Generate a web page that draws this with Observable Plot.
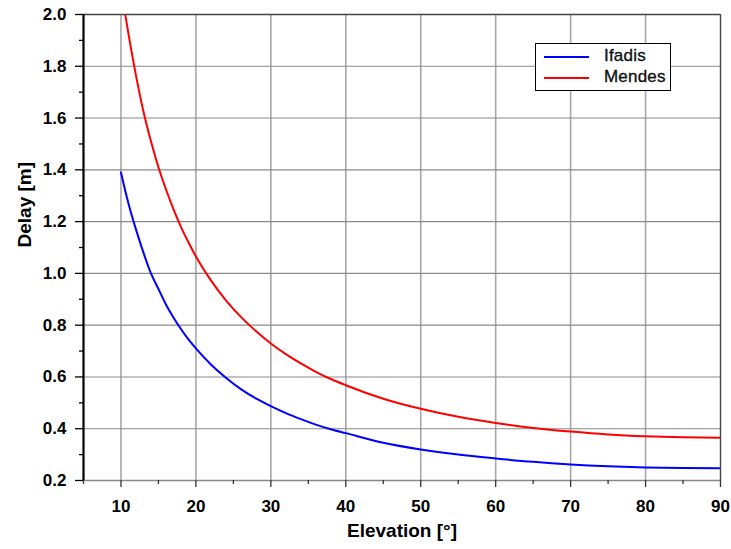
<!DOCTYPE html>
<html>
<head>
<meta charset="utf-8">
<script src="https://cdn.jsdelivr.net/npm/d3@7"></script>
<script src="https://cdn.jsdelivr.net/npm/@observablehq/plot@0.6"></script>
<style>
  html, body { margin: 0; padding: 0; background: white; }
  #wrap { position: relative; width: 731px; height: 549px; }
  #legend {
    position: absolute; left: 535px; top: 43px; width: 134px; height: 46px;
    border: 1px solid black; background: white;
    font-family: 'Liberation Sans', Arial, sans-serif; font-size: 17px;
  }
  .row { position: absolute; left: 0; height: 20px; width: 134px; }
  .swatch { position: absolute; left: 8px; width: 45px; height: 2px; }
  .lab { position: absolute; left: 68px; color: #111; -webkit-text-stroke: 0.35px #111; letter-spacing: 0.2px; }
</style>
</head>
<body>
<div id="wrap"></div>
<script>
// Elevation angles (degrees)
const elevation = [10,11,12,13,14,15,16,17,18,19,20,22,24,26,28,30,32,34,36,38,40,45,50,55,60,65,70,75,80,85,90];
// Delay [m] – Ifadis
const ifadis = [1.39,1.27,1.17,1.08,1.00,0.94,0.88,0.83,0.785,0.745,0.71,0.648,0.597,0.553,0.517,0.487,0.46,0.437,0.416,0.398,0.383,0.346,0.32,0.30,0.285,0.272,0.262,0.255,0.2505,0.248,0.247];
// Delay [m] – Mendes
const mendes = [2.10,1.925,1.765,1.625,1.51,1.41,1.325,1.248,1.18,1.12,1.065,0.973,0.896,0.832,0.777,0.729,0.688,0.652,0.62,0.592,0.568,0.516,0.477,0.446,0.422,0.403,0.389,0.378,0.371,0.367,0.365];

const seriesNames = ["Ifadis", "Mendes"];
const seriesColors = ["#0000ff", "#ff0000"];

const xTicks = [10,20,30,40,50,60,70,80,90];
const xMinorTicks = [5,15,25,35,45,55,65,75,85];
const xGrid = [10,20,30,40,50,60,70,80];
const yTicks = [0.2,0.4,0.6,0.8,1.0,1.2,1.4,1.6,1.8,2.0];
const yMinorTicks = [0.3,0.5,0.7,0.9,1.1,1.3,1.5,1.7,1.9];
const yGrid = [0.4,0.6,0.8,1.0,1.2,1.4,1.6,1.8];
const xDomain = [5, 90];
const yDomain = [0.2, 2.0];
const xLabel = "Elevation [°]";
const yLabel = "Delay [m]";

const series = [ifadis, mendes];

const chart = Plot.plot({
  width: 731,
  height: 549,
  marginLeft: 83,
  marginRight: 11,
  marginTop: 14,
  marginBottom: 69,
  style: { fontFamily: "'Liberation Sans', Arial, sans-serif", background: "white", color: "black" },
  x: { domain: xDomain },
  y: { domain: yDomain },
  marks: [
    Plot.ruleX(xGrid, { stroke: "#a8a8a8", strokeWidth: 1.6 }),
    Plot.ruleY(yGrid, { stroke: "#8a8a8a", strokeWidth: 1.1 }),
    ...series.map((vals, k) => Plot.line(elevation.map((e, i) => [e, vals[i]]), {
      x: d => d[0], y: d => d[1], stroke: seriesColors[k], strokeWidth: 2, curve: "monotone-x", clip: true
    })),
    Plot.ruleY([yDomain[0]], { stroke: "#888", strokeWidth: 1.6 }),
    Plot.ruleY([yDomain[1]], { stroke: "#444", strokeWidth: 1.4 }),
    Plot.ruleX([xDomain[1]], { stroke: "#444", strokeWidth: 1.4 }),
    Plot.ruleX([xDomain[0]], { stroke: "black", strokeWidth: 2.2 }),
    Plot.axisY(yTicks, { tickSize: 8, tickPadding: 9, tickFormat: d => d.toFixed(1), fontSize: 17, fontWeight: "bold", strokeWidth: 1.3, label: null }),
    Plot.axisY(yMinorTicks, { tickSize: 4, tickFormat: () => "", strokeWidth: 1.3, label: null }),
    Plot.axisX(xTicks, { tickSize: 7, tickPadding: 12, fontSize: 17, fontWeight: "bold", stroke: "#333", strokeWidth: 1.3, label: null }),
    Plot.axisX(xMinorTicks, { tickSize: 4, tickFormat: () => "", stroke: "#333", strokeWidth: 1.3, label: null }),
    Plot.text([xLabel], { text: d => d, frameAnchor: "bottom", dy: 56, fontSize: 19, fontWeight: "bold" }),
    Plot.text([yLabel], { text: d => d, frameAnchor: "left", dx: -59, rotate: -90, fontSize: 19, fontWeight: "bold" })
  ]
});

const wrap = document.getElementById("wrap");
wrap.appendChild(chart);

const legend = document.createElement("div");
legend.id = "legend";
seriesNames.forEach((name, k) => {
  const row = document.createElement("div");
  row.className = "row";
  row.style.top = (2 + k * 21) + "px";
  const sw = document.createElement("div");
  sw.className = "swatch";
  sw.style.top = "10px";
  sw.style.background = seriesColors[k];
  const lab = document.createElement("div");
  lab.className = "lab";
  lab.style.top = "0px";
  lab.textContent = name;
  row.appendChild(sw);
  row.appendChild(lab);
  legend.appendChild(row);
});
wrap.appendChild(legend);
</script>
</body>
</html>
